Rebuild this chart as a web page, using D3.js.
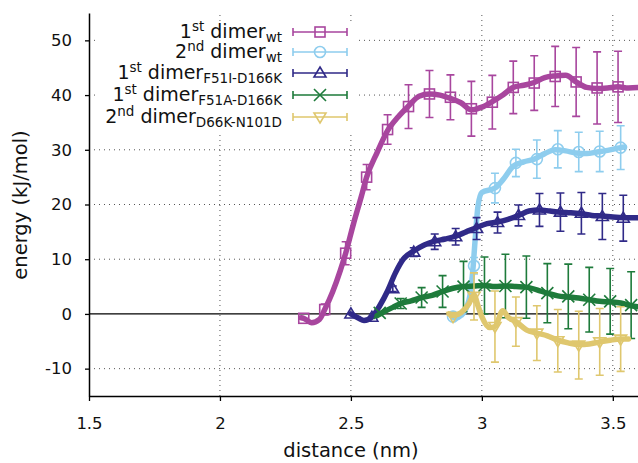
<!DOCTYPE html>
<html>
<head>
<meta charset="utf-8">
<script src="https://cdn.jsdelivr.net/npm/d3@7"></script>
<style>
  html, body { margin: 0; padding: 0; background: #fff; }
  svg { display: block; font-family: "DejaVu Sans", Verdana, sans-serif; }
</style>
</head>
<body>
<svg id="chart" width="638" height="463"></svg>
<script>
// Axis ticks
const xTicks = [1.5, 2, 2.5, 3, 3.5];
const xTickLabels = ["1.5", "2", "2.5", "3", "3.5"];
const yTicks = [-10, 0, 10, 20, 30, 40, 50];
const yTickLabels = ["-10", "0", "10", "20", "30", "40", "50"];

// 1st dimer wt: smooth profile and sampled points with error
const wt1LineX = [2.31, 2.32, 2.35, 2.38, 2.40, 2.43, 2.46, 2.48, 2.51, 2.54, 2.56, 2.60, 2.64, 2.68, 2.72, 2.76, 2.80, 2.84, 2.88, 2.92, 2.96, 3.00, 3.04, 3.08, 3.12, 3.16, 3.20, 3.24, 3.28, 3.32, 3.36, 3.40, 3.44, 3.48, 3.52, 3.56, 3.60];
const wt1LineY = [-0.7, -0.8, -1.6, -1.0, 0.8, 4.0, 8.0, 11.1, 16.5, 21.5, 25.0, 29.5, 33.5, 36.0, 38.0, 39.8, 40.2, 40.0, 39.4, 38.6, 37.3, 37.8, 38.8, 40.0, 41.4, 41.8, 42.3, 43.2, 43.5, 43.6, 42.4, 41.4, 41.2, 41.3, 41.5, 41.3, 41.4];
const wt1PtX = [2.32, 2.40, 2.48, 2.56, 2.64, 2.72, 2.80, 2.88, 2.96, 3.04, 3.12, 3.20, 3.28, 3.36, 3.44, 3.52];
const wt1PtY = [-0.8, 0.8, 11.1, 25.0, 33.7, 37.9, 40.2, 39.6, 37.5, 38.7, 41.4, 42.2, 43.4, 42.4, 41.3, 41.5];
const wt1PtErr = [0, 1.0, 2.1, 2.3, 2.7, 4.0, 4.3, 4.1, 5.0, 4.9, 4.8, 5.0, 5.5, 6.3, 6.6, 6.5];

// 2nd dimer wt
const wt2LineX = [2.885, 2.90, 2.92, 2.94, 2.955, 2.967, 2.975, 2.985, 3.00, 3.05, 3.08, 3.12, 3.16, 3.20, 3.24, 3.28, 3.32, 3.36, 3.40, 3.44, 3.48, 3.53, 3.545];
const wt2LineY = [-0.4, -0.8, -0.3, 1.0, 3.5, 8.8, 14.0, 19.6, 22.2, 23.0, 24.5, 27.0, 27.8, 28.3, 29.3, 30.0, 29.8, 29.4, 29.3, 29.6, 29.9, 30.4, 30.5];
const wt2PtX = [2.89, 2.97, 3.05, 3.13, 3.21, 3.29, 3.37, 3.45, 3.53];
const wt2PtY = [-0.5, 8.8, 23.0, 27.6, 28.3, 30.1, 29.6, 29.7, 30.4];
const wt2PtErr = [0, 1.5, 2.7, 2.5, 3.5, 3.4, 3.6, 3.7, 4.0];

// 1st dimer F51I-D166K
const f51iLineX = [2.50, 2.53, 2.55, 2.58, 2.61, 2.64, 2.67, 2.70, 2.74, 2.78, 2.82, 2.86, 2.90, 2.94, 2.98, 3.02, 3.06, 3.10, 3.14, 3.18, 3.22, 3.26, 3.30, 3.34, 3.38, 3.42, 3.46, 3.50, 3.55, 3.60];
const f51iLineY = [0.0, -0.8, -1.2, -0.6, 1.5, 4.2, 7.5, 10.0, 11.5, 12.6, 13.3, 13.7, 14.2, 15.0, 15.8, 16.5, 16.8, 17.3, 18.0, 18.8, 19.0, 18.8, 18.6, 18.5, 18.3, 18.0, 17.9, 17.7, 17.6, 17.6];
const f51iPtX = [2.50, 2.58, 2.66, 2.74, 2.82, 2.90, 2.98, 3.06, 3.14, 3.22, 3.30, 3.38, 3.46, 3.54];
const f51iPtY = [0.0, -0.6, 4.6, 11.3, 13.2, 14.1, 15.6, 16.7, 18.0, 19.0, 18.6, 18.4, 17.8, 17.5];
const f51iPtErr = [0, 0, 0.5, 0.8, 1.4, 1.5, 2.0, 1.9, 1.9, 3.0, 3.5, 3.8, 4.2, 4.2];

// 1st dimer F51A-D166K
const f51aLineX = [2.60, 2.63, 2.66, 2.69, 2.73, 2.77, 2.81, 2.85, 2.89, 2.93, 2.97, 3.01, 3.05, 3.09, 3.13, 3.17, 3.21, 3.25, 3.29, 3.33, 3.37, 3.41, 3.45, 3.49, 3.53, 3.57, 3.60];
const f51aLineY = [-0.3, 0.5, 1.2, 1.9, 2.4, 3.0, 3.4, 4.1, 4.7, 5.0, 5.1, 5.2, 5.0, 5.1, 5.0, 4.9, 4.4, 3.8, 3.3, 3.1, 2.9, 2.6, 2.3, 2.2, 2.0, 1.5, 1.3];
const f51aPtX = [2.61, 2.69, 2.77, 2.85, 2.93, 3.01, 3.09, 3.17, 3.25, 3.33, 3.41, 3.49, 3.57];
const f51aPtY = [0.2, 1.9, 3.0, 4.1, 5.0, 5.2, 5.1, 4.9, 3.8, 3.2, 2.6, 2.3, 1.6];
const f51aPtErr = [0, 0.9, 1.8, 2.9, 4.6, 5.2, 5.8, 5.7, 5.4, 5.9, 5.9, 6.0, 6.1];

// 2nd dimer D66K-N101D
const d66kLineX = [2.875, 2.89, 2.92, 2.95, 2.97, 2.985, 3.00, 3.03, 3.05, 3.08, 3.10, 3.13, 3.17, 3.21, 3.25, 3.29, 3.33, 3.37, 3.41, 3.45, 3.49, 3.53, 3.56];
const d66kLineY = [0.0, -0.3, 0.2, 1.8, 3.5, 1.5, -0.5, -2.5, -2.3, 0.6, -0.6, -1.4, -2.9, -3.5, -4.0, -4.8, -5.3, -5.6, -5.5, -5.1, -4.8, -4.6, -4.6];
const d66kPtX = [2.89, 2.97, 3.05, 3.13, 3.21, 3.29, 3.37, 3.45, 3.53];
const d66kPtY = [-0.5, 3.2, -2.3, -1.4, -3.5, -4.9, -5.7, -5.1, -4.6];
const d66kPtErr = [0, 4.3, 6.5, 4.5, 5.0, 5.7, 6.2, 6.1, 5.9];

const series = [
  { name: ["1", "st", " dimer", "wt"], color: "#a8469e", marker: "square",
    lx: wt1LineX, ly: wt1LineY, px: wt1PtX, py: wt1PtY, pe: wt1PtErr },
  { name: ["2", "nd", " dimer", "wt"], color: "#8ecdee", marker: "circle",
    lx: wt2LineX, ly: wt2LineY, px: wt2PtX, py: wt2PtY, pe: wt2PtErr },
  { name: ["1", "st", " dimer", "F51I-D166K"], color: "#302a88", marker: "triUp",
    lx: f51iLineX, ly: f51iLineY, px: f51iPtX, py: f51iPtY, pe: f51iPtErr },
  { name: ["1", "st", " dimer", "F51A-D166K"], color: "#1e7b3b", marker: "cross",
    lx: f51aLineX, ly: f51aLineY, px: f51aPtX, py: f51aPtY, pe: f51aPtErr },
  { name: ["2", "nd", " dimer", "D66K-N101D"], color: "#dfc76e", marker: "triDown",
    lx: d66kLineX, ly: d66kLineY, px: d66kPtX, py: d66kPtY, pe: d66kPtErr }
];

const svg = d3.select("#chart");
const plotL = 89, plotR = 639, plotT = 13, plotB = 396;
const x = d3.scaleLinear().domain([1.5, 3.6]).range([plotL, plotR]);
const y = d3.scaleLinear().domain([-15, 55]).range([plotB, plotT]);

svg.append("defs").append("clipPath").attr("id", "plotclip")
  .append("rect").attr("x", plotL).attr("y", plotT).attr("width", plotR - plotL).attr("height", plotB - plotT);

// dotted grid
const grid = svg.append("g").attr("stroke", "#555").attr("stroke-width", 1).attr("stroke-dasharray", "1,4");
grid.selectAll("line.gx").data(xTicks.slice(1)).join("line")
  .attr("x1", d => x(d)).attr("x2", d => x(d)).attr("y1", plotB).attr("y2", plotT);
grid.selectAll("line.gy").data(yTicks.filter(d => d !== 0)).join("line")
  .attr("x1", plotL).attr("x2", plotR).attr("y1", d => y(d)).attr("y2", d => y(d));

// legend background hides the grid under it
svg.append("rect").attr("x", 96).attr("y", 21).attr("width", 259).attr("height", 114).attr("fill", "#fff");

// zero line
svg.append("line").attr("x1", plotL).attr("x2", plotR).attr("y1", y(0)).attr("y2", y(0))
  .attr("stroke", "#000").attr("stroke-width", 1.3);

// axes
const xAxis = d3.axisBottom(x).tickValues(xTicks).tickSize(5).tickSizeOuter(0)
  .tickFormat((d, i) => xTickLabels[i]);
const gx = svg.append("g").attr("transform", `translate(0,${plotB})`).call(xAxis);
gx.select(".domain").attr("stroke-width", 1.5);
gx.selectAll(".tick line").attr("stroke-width", 1.3);
gx.selectAll(".tick text").attr("font-size", 16.5).attr("fill", "#111").attr("dy", "1.5em")
  .attr("font-family", "DejaVu Sans, Verdana, sans-serif");

const yAxis = d3.axisLeft(y).tickValues(yTicks).tickSize(4).tickSizeOuter(0)
  .tickFormat((d, i) => yTickLabels[i]);
const gy = svg.append("g").attr("transform", `translate(${plotL},0)`).call(yAxis);
gy.select(".domain").attr("stroke-width", 1.5);
gy.selectAll(".tick line").attr("stroke-width", 1.3);
gy.selectAll(".tick text").attr("font-size", 16.5).attr("fill", "#111").attr("x", -17)
  .attr("font-family", "DejaVu Sans, Verdana, sans-serif");

// axis titles
svg.append("text").attr("x", 351).attr("y", 457).attr("text-anchor", "middle")
  .attr("font-size", 19.5).attr("fill", "#111").text("distance (nm)");
svg.append("text").attr("transform", "translate(27,205) rotate(-90)").attr("text-anchor", "middle")
  .attr("font-size", 19.5).attr("fill", "#111").text("energy (kJ/mol)");

// marker shapes
function drawMarker(g, kind, cx, cy, color) {
  const s = 5;
  const m = g.append("g").attr("fill", "none").attr("stroke", color).attr("stroke-width", 1.6);
  if (kind === "square") {
    m.append("rect").attr("x", cx - s).attr("y", cy - s).attr("width", 2 * s).attr("height", 2 * s);
  } else if (kind === "circle") {
    m.append("circle").attr("cx", cx).attr("cy", cy).attr("r", s + 0.5);
  } else if (kind === "triUp") {
    m.append("path").attr("d", `M${cx},${cy - s - 1}L${cx + s + 1},${cy + s - 1}L${cx - s - 1},${cy + s - 1}Z`);
  } else if (kind === "triDown") {
    m.append("path").attr("d", `M${cx},${cy + s + 1}L${cx + s + 1},${cy - s + 1}L${cx - s - 1},${cy - s + 1}Z`);
  } else if (kind === "cross") {
    m.append("path").attr("d", `M${cx - s - 1},${cy - s - 1}L${cx + s + 1},${cy + s + 1}M${cx - s - 1},${cy + s + 1}L${cx + s + 1},${cy - s - 1}`);
  }
}

const plot = svg.append("g").attr("clip-path", "url(#plotclip)");
const line = d3.line().curve(d3.curveMonotoneX);
const cap = 4;

series.forEach(s => {
  const g = plot.append("g");
  const pts = s.lx.map((v, i) => [x(v), y(s.ly[i])]);
  g.append("path").attr("d", line(pts)).attr("fill", "none").attr("stroke", s.color)
    .attr("stroke-width", 5.5).attr("stroke-linecap", "round").attr("stroke-linejoin", "round");
  const eb = g.append("g").attr("stroke", s.color).attr("stroke-width", 1.6).attr("fill", "none");
  s.px.forEach((v, i) => {
    const cx = x(v), y0 = y(s.py[i] - s.pe[i]), y1 = y(s.py[i] + s.pe[i]);
    if (s.pe[i] > 0) {
      eb.append("path").attr("d", `M${cx},${y0}L${cx},${y1}M${cx - cap},${y0}L${cx + cap},${y0}M${cx - cap},${y1}L${cx + cap},${y1}`);
    }
    drawMarker(g, s.marker, cx, y(s.py[i]), s.color);
  });
});

// legend
const legendRows = [32, 52, 73, 95, 117];
series.forEach((s, i) => {
  const cy = legendRows[i];
  const lg = svg.append("g");
  lg.append("path").attr("d", `M293,${cy}L347,${cy}M293,${cy - 4}L293,${cy + 4}M347,${cy - 4}L347,${cy + 4}`)
    .attr("stroke", s.color).attr("stroke-width", 1.6).attr("fill", "none");
  drawMarker(lg, s.marker, 320, cy, s.color);
  const t = lg.append("text").attr("x", 282).attr("y", cy + 6).attr("text-anchor", "end")
    .attr("font-size", 19).attr("fill", "#111");
  t.append("tspan").text(s.name[0]);
  t.append("tspan").attr("font-size", 13.5).attr("dy", -7).text(s.name[1]);
  t.append("tspan").attr("dy", 7).text(s.name[2]);
  t.append("tspan").attr("font-size", 13.5).attr("dy", 4).text(s.name[3]);
});
</script>
</body>
</html>
